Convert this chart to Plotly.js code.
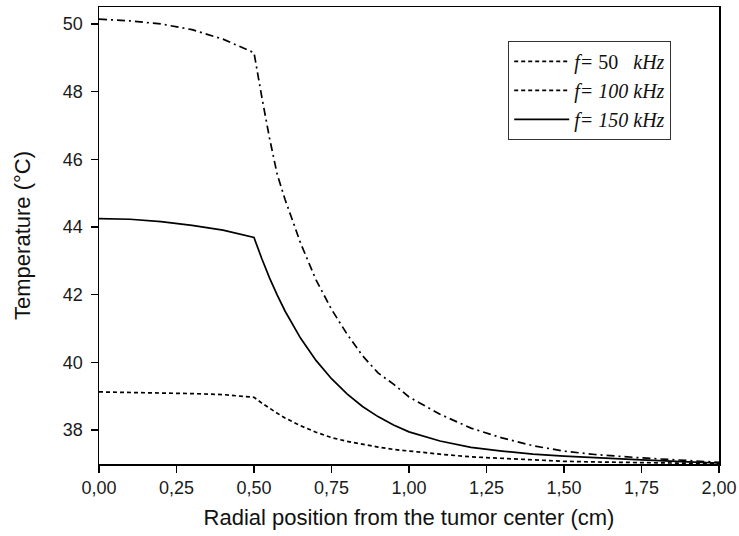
<!DOCTYPE html>
<html>
<head>
<meta charset="utf-8">
<script src="https://cdn.plot.ly/plotly-3.0.1.min.js"></script>
<style>html,body{margin:0;padding:0;background:#fff;}#chart{width:739px;height:536px;}</style>
</head>
<body>
<div id="chart"></div>
<script>
// Radial position (cm)
var radius = [0, 0.1, 0.2, 0.3, 0.4, 0.5, 0.525, 0.55, 0.575, 0.6, 0.65, 0.7, 0.75, 0.8, 0.85, 0.9, 0.95, 1.0, 1.1, 1.2, 1.3, 1.4, 1.5, 1.6, 1.75, 1.9, 2.0];
// Temperature (°C) per frequency
var temp50  = [39.13, 39.12, 39.10, 39.08, 39.05, 38.97, 38.80, 38.64, 38.50, 38.36, 38.13, 37.94, 37.78, 37.67, 37.58, 37.50, 37.43, 37.38, 37.29, 37.21, 37.16, 37.12, 37.08, 37.06, 37.04, 37.02, 37.01];
var temp100 = [44.25, 44.23, 44.16, 44.05, 43.91, 43.69, 43.07, 42.50, 41.99, 41.52, 40.72, 40.06, 39.52, 39.07, 38.70, 38.40, 38.15, 37.95, 37.68, 37.49, 37.38, 37.29, 37.23, 37.18, 37.12, 37.06, 37.03];
var temp150 = [50.14, 50.09, 50.00, 49.83, 49.55, 49.15, 47.85, 46.63, 45.55, 44.82, 43.53, 42.44, 41.57, 40.84, 40.20, 39.69, 39.36, 38.98, 38.47, 38.06, 37.77, 37.54, 37.38, 37.28, 37.18, 37.09, 37.05];
var names = ['<i>f=</i> 50 &nbsp; <i>kHz</i>', '<i>f= 100 kHz</i>', '<i>f= 150 kHz</i>'];
var xTickVals = [0, 0.25, 0.5, 0.75, 1.0, 1.25, 1.5, 1.75, 2.0];
var yTickVals = [38, 40, 42, 44, 46, 48, 50];

var traces = [
  {x: radius, y: temp50, mode: 'lines', name: names[0], showlegend: false,
   line: {color: '#000', width: 1.7, dash: '4px,3px'}},
  {x: radius, y: temp100, mode: 'lines', name: names[1], showlegend: false,
   line: {color: '#000', width: 1.7}},
  {x: radius, y: temp150, mode: 'lines', name: names[2], showlegend: false,
   line: {color: '#000', width: 1.7, dash: '8px,4px,2px,4px'}},
  // legend entries as drawn in the original figure
  {x: [null], y: [null], mode: 'lines', name: names[0], line: {color: '#000', width: 1.7, dash: '4px,3px'}},
  {x: [null], y: [null], mode: 'lines', name: names[1], line: {color: '#000', width: 1.7, dash: '4px,3px'}},
  {x: [null], y: [null], mode: 'lines', name: names[2], line: {color: '#000', width: 1.7}}
];

var axisFont = {family: 'Liberation Sans, Arial, sans-serif', size: 18, color: '#1a1a1a'};
var titleFont = {family: 'Liberation Sans, Arial, sans-serif', size: 22, color: '#111'};
var layout = {
  width: 739, height: 536,
  margin: {l: 99, r: 20, t: 7, b: 72},
  paper_bgcolor: '#fff', plot_bgcolor: '#fff',
  separators: ', ',
  showlegend: true,
  hovermode: false,
  legend: {
    x: 0.66, y: 0.926, xanchor: 'left', yanchor: 'top',
    bordercolor: '#333', borderwidth: 1, bgcolor: '#fff',
    font: {family: 'Liberation Serif, Times New Roman, serif', size: 20, color: '#111'},
    itemwidth: 55, tracegroupgap: 0
  },
  xaxis: {
    range: [0, 2], tickvals: xTickVals, tickformat: '.2f',
    ticks: 'outside', ticklen: 7, tickwidth: 1.5, tickcolor: '#000',
    showline: true, linecolor: '#000', linewidth: 1.5, mirror: true,
    showgrid: false, zeroline: false, tickfont: axisFont,
    title: {text: 'Radial position from the tumor center (cm)', font: titleFont, standoff: 12}
  },
  yaxis: {
    range: [37, 50.5], tickvals: yTickVals,
    ticks: 'outside', ticklen: 7, tickwidth: 1.5, tickcolor: '#000',
    showline: true, linecolor: '#000', linewidth: 1.5, mirror: true,
    showgrid: false, zeroline: false, tickfont: axisFont, ticklabelstandoff: 4,
    title: {text: 'Temperature (°C)', font: titleFont, standoff: 26}
  }
};

Plotly.newPlot('chart', traces, layout, {displayModeBar: false, staticPlot: true});
</script>
</body>
</html>
